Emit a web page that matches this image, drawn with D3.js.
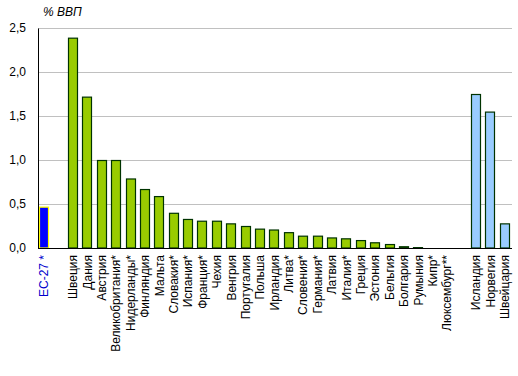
<!DOCTYPE html>
<html>
<head>
<meta charset="utf-8">
<script src="https://cdn.jsdelivr.net/npm/d3@7"></script>
<style>
  body { margin: 0; background: #fff; }
  svg { font-family: Arial, "Liberation Sans", sans-serif; }
</style>
</head>
<body>
<div id="chart"></div>
<script>
// Data (% ВВП)
const euLabel = ["ЕС-27 *"];
const euValues = [0.47];

const countries = ["Швеция", "Дания", "Австрия", "Великобритания*", "Нидерланды*", "Финляндия",
  "Мальта", "Словакия*", "Испания*", "Франция*", "Чехия", "Венгрия", "Португалия", "Польша",
  "Ирландия", "Литва*", "Словения*", "Германия*", "Латвия", "Италия*", "Греция", "Эстония",
  "Бельгия", "Болгария", "Румыния", "Кипр*", "Люксембург**"];
const countryValues = [2.39, 1.72, 1.0, 1.0, 0.79, 0.67, 0.59, 0.40, 0.33, 0.31, 0.31, 0.28,
  0.25, 0.22, 0.21, 0.18, 0.14, 0.14, 0.12, 0.11, 0.09, 0.065, 0.045, 0.02, 0.01, 0.005, 0];

const efta = ["Исландия", "Норвегия", "Швейцария"];
const eftaValues = [1.75, 1.55, 0.28];

const yTicks = [0, 0.5, 1.0, 1.5, 2.0, 2.5];

// Build slots (with empty gaps between groups)
const rows = [];
euLabel.forEach((c, i) => rows.push({ key: c, value: euValues[i], group: "eu" }));
rows.push({ key: "gap1", value: null, group: "gap" });
countries.forEach((c, i) => rows.push({ key: c, value: countryValues[i], group: "eu27" }));
rows.push({ key: "gap2", value: null, group: "gap" });
efta.forEach((c, i) => rows.push({ key: c, value: eftaValues[i], group: "efta" }));

const width = 518, height = 376;
const margin = { top: 28, right: 6, bottom: 128, left: 38 };

const svg = d3.select("#chart").append("svg")
  .attr("width", width)
  .attr("height", height);

const x = d3.scaleBand()
  .domain(rows.map(d => d.key))
  .range([margin.left - 1, width - margin.right])
  .paddingInner(0.3)
  .paddingOuter(0.15);

const y = d3.scaleLinear()
  .domain([0, 2.5])
  .range([height - margin.bottom, margin.top]);

const fills = { eu: "#0000ff", eu27: "#99cc00", efta: "#99ccff" };
const strokes = { eu: "#ffff00", eu27: "#003300", efta: "#003300" };

// Gridlines
svg.append("g")
  .attr("transform", `translate(${margin.left},0)`)
  .call(d3.axisLeft(y).tickValues(yTicks).tickSize(-(width - margin.right - margin.left)).tickFormat(""))
  .call(g => g.select(".domain").remove())
  .selectAll("line")
  .attr("stroke", "#c0c0c0");

// Bars
svg.append("g")
  .selectAll("rect")
  .data(rows.filter(d => d.group !== "gap" && d.value > 0))
  .join("rect")
  .attr("x", d => Math.round(x(d.key)) + 0.5)
  .attr("y", d => y(d.value) + 0.5)
  .attr("width", Math.round(x.bandwidth()) - 1)
  .attr("height", d => Math.max(0, y(0) - y(d.value) - 0.5))
  .attr("fill", d => fills[d.group])
  .attr("stroke", d => strokes[d.group])
  .attr("stroke-width", 1.2);

// Y axis
const yAxis = svg.append("g")
  .attr("transform", `translate(${margin.left},0)`)
  .call(d3.axisLeft(y).tickValues(yTicks).tickSize(0).tickPadding(12)
    .tickFormat(d => d3.format(".1f")(d).replace(".", ",")));
yAxis.select(".domain").attr("stroke", "#000");
yAxis.selectAll("text").attr("font-size", 12).attr("fill", "#000")
  .attr("font-family", "Arial, 'Liberation Sans', sans-serif");

// X axis
const xAxis = svg.append("g")
  .attr("transform", `translate(0,${height - margin.bottom})`)
  .call(d3.axisBottom(x).tickSize(0).tickFormat(d => d.startsWith("gap") ? "" : d));
xAxis.select(".domain").attr("stroke", "#000").attr("d", `M${margin.left},0.5H${width - 6}`);
xAxis.selectAll("text")
  .attr("font-size", 12)
  .attr("font-family", "Arial, 'Liberation Sans', sans-serif")
  .attr("fill", d => d === euLabel[0] ? "#0000cc" : "#000")
  .attr("transform", "rotate(-90)")
  .attr("text-anchor", "end")
  .attr("x", -7)
  .attr("y", 0)
  .attr("dy", "0.35em");

// Unit label
svg.append("text")
  .attr("x", 43)
  .attr("y", 16)
  .attr("font-size", 12)
  .attr("font-style", "italic")
  .attr("fill", "#000")
  .text("% ВВП");
</script>
</body>
</html>
